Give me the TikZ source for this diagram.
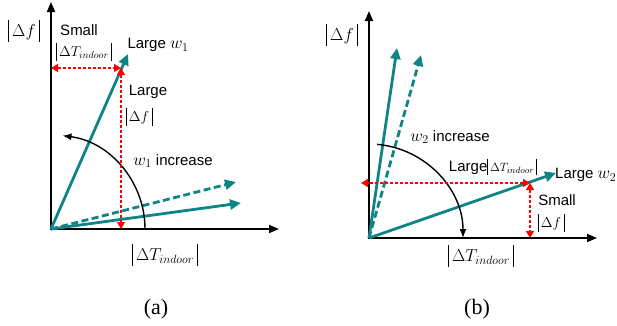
\documentclass[tikz,border=0pt]{standalone}
\usepackage{fontspec}
\setmainfont{Liberation Sans}
\newfontfamily\capfont{Liberation Serif}
\usetikzlibrary{arrows.meta,positioning,calc}
\definecolor{VecTeal}{HTML}{0E8484}
\definecolor{GuideRed}{HTML}{FF0000}
\newcommand{\absv}[1]{\rule[-0.32em]{0.06em}{1.3em}\,#1\,\rule[-0.32em]{0.06em}{1.3em}}
\newcommand{\wsym}[1]{{\fontsize{18}{20}\selectfont$w_{#1}$}}
\begin{document}
\begin{tikzpicture}[x=1pt,y=1pt,>=Latex,every node/.style={font=\fontsize{15}{17}\selectfont,inner sep=0pt},
    axis/.style={line width=1.8pt,{Triangle[length=10pt,width=8pt]}-{Triangle[length=10pt,width=8pt]}},
    vec/.style={VecTeal,line width=2.8pt,-{Triangle[length=11pt,width=10pt]}},
    vecdash/.style={vec,dash pattern=on 7pt off 3.5pt},
    guide/.style={GuideRed,line width=1.4pt,dash pattern=on 3pt off 2pt,{Triangle[length=7pt,width=8pt]}-{Triangle[length=7pt,width=8pt]}},
    sweep/.style={line width=1.4pt,-{Latex[length=9pt,width=7pt]}},
    bigmath/.style={font=\fontsize{17}{19}\selectfont},
    smallmath/.style={font=\fontsize{14}{16}\selectfont},
    caption/.style={font=\capfont\fontsize{22}{24}\selectfont}]
    \useasboundingbox (0,0) rectangle (617,325);

    % panel (a): small w1 -> large w1
    \coordinate (Oa) at (51,96);
    \coordinate (Ya) at (51,323);
    \coordinate (Xa) at (279,96);
    \coordinate (Ta) at (128,271);
    \coordinate (Pa) at (121,257);
    \coordinate (Ha) at (51,257);
    \coordinate (Sa) at (241,122);
    \coordinate (Da) at (236,143);
    \draw[axis] (Ya) -- (Oa) -- (Xa);
    \draw[vec] (Oa) -- (Ta);
    \draw[vecdash] (Oa) -- (Da);
    \draw[vec] (Oa) -- (Sa);
    \draw[sweep] ($(Oa)+(94,0)$) arc[start angle=0,end angle=83,radius=94];
    \draw[guide] (Ha) -- (Pa);
    \draw[guide] (Pa) -- (Pa |- Oa);

    \node[bigmath] (dfa) at (24,294) {$\absv{\Delta f}$};
    \node (smalla) at (79,295) {Small};
    \node[smallmath] (dta) at (84,273) {$\absv{\Delta T_{indoor}}$};
    \node (w1a) at (158,280) {Large \wsym{1}};
    \node (largea) at (148,233) {Large};
    \node[smallmath] (dfsa) at (139,208) {$\absv{\Delta f}$};
    \node (inca) at (173,164) {\wsym{1} increase};
    \node[bigmath] (dtxa) at (165,70) {$\absv{\Delta T_{indoor}}$};
    \node[caption] (capa) at (156,16) {(a)};

    % panel (b): small w2 -> large w2
    \coordinate (Ob) at (369,87);
    \coordinate (Yb) at (369,314);
    \coordinate (Xb) at (597,87);
    \coordinate (Tb) at (397,277);
    \coordinate (Db) at (421,270);
    \coordinate (Sb) at (556,152);
    \coordinate (Pb) at (530,142);
    \coordinate (Hb) at (361,142);
    \draw[axis] (Yb) -- (Ob) -- (Xb);
    \draw[vec] (Ob) -- (Tb);
    \draw[vecdash] (Ob) -- (Db);
    \draw[vec] (Ob) -- (Sb);
    \draw[sweep] ($(Ob)+(85:94)$) arc[start angle=85,end angle=0,radius=94];
    \draw[guide] (Pb) -- (Hb);
    \draw[guide] (Pb) -- (Pb |- Ob);

    \node[bigmath] (dfb) at (342,290) {$\absv{\Delta f}$};
    \node (incb) at (450,188) {\wsym{2} increase};
    \node (largeb) at (493,158) {Large{\fontsize{13}{15}\selectfont$\absv{\Delta T_{indoor}}$}};
    \node[anchor=west] (w2b) at (555,150) {Large \wsym{2}};
    \node (smallb) at (557,125) {Small};
    \node[smallmath] (dfsb) at (551,102) {$\absv{\Delta f}$};
    \node[bigmath] (dtxb) at (481,69) {$\absv{\Delta T_{indoor}}$};
    \node[caption] (capb) at (477,16) {(b)};
\end{tikzpicture}
\end{document}
